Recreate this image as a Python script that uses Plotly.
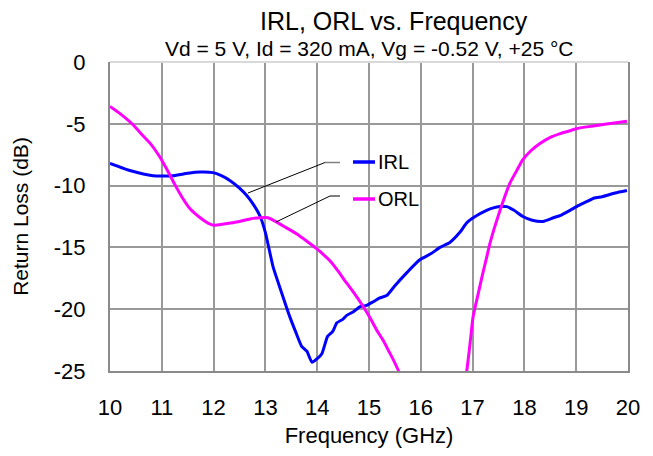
import plotly.graph_objects as go

# IRL (input return loss), dB
irl_freq = [10.0, 10.4, 10.83, 11.22, 11.5, 11.74, 11.99, 12.15, 12.32, 12.5, 12.64, 12.78, 12.9, 13.0, 13.15, 13.3, 13.47, 13.6, 13.7, 13.8, 13.9, 14.0, 14.09, 14.2, 14.3, 14.38, 14.5, 14.57, 14.7, 14.83, 14.95, 15.08, 15.2, 15.34, 15.5, 15.74, 15.98, 16.2, 16.37, 16.56, 16.75, 16.89, 17.05, 17.27, 17.4, 17.53, 17.66, 17.8, 17.97, 18.15, 18.36, 18.56, 18.7, 18.88, 19.05, 19.2, 19.35, 19.5, 19.75, 19.98]
irl_db = [-8.2, -8.8, -9.2, -9.2, -9.0, -8.9, -8.95, -9.2, -9.6, -10.2, -10.8, -11.6, -12.5, -13.8, -16.6, -18.5, -20.6, -22.0, -23.0, -23.4, -24.3, -24.0, -23.6, -22.2, -21.8, -21.1, -20.8, -20.5, -20.2, -19.8, -19.7, -19.4, -19.1, -18.9, -18.1, -17.0, -16.0, -15.5, -15.0, -14.6, -13.8, -13.0, -12.5, -12.0, -11.8, -11.7, -11.7, -12.0, -12.5, -12.8, -12.9, -12.6, -12.4, -12.0, -11.6, -11.3, -11.0, -10.9, -10.6, -10.4]

# ORL (output return loss), dB
orl_freq_a = [10.0, 10.2, 10.45, 10.6, 10.78, 10.95, 11.1, 11.25, 11.4, 11.55, 11.74, 11.9, 12.0, 12.2, 12.5, 12.7, 12.9, 13.05, 13.22, 13.4, 13.6, 13.8, 13.99, 14.1, 14.25, 14.4, 14.57, 14.73, 14.89, 15.02, 15.15, 15.27, 15.37, 15.47, 15.56, 15.65]
orl_db_a = [-3.6, -4.2, -5.1, -5.8, -6.6, -7.6, -8.7, -9.9, -11.0, -11.9, -12.6, -13.05, -13.2, -13.1, -12.9, -12.7, -12.6, -12.6, -12.95, -13.4, -13.9, -14.5, -15.1, -15.5, -16.1, -16.9, -17.9, -18.8, -19.8, -20.7, -21.7, -22.5, -23.3, -24.1, -24.9, -25.8]
orl_freq_b = [16.85, 16.89, 16.95, 17.01, 17.1, 17.18, 17.26, 17.34, 17.43, 17.53, 17.62, 17.72, 17.85, 17.97, 18.12, 18.3, 18.5, 18.69, 18.85, 19.0, 19.2, 19.46, 19.7, 19.98]
orl_db_b = [-25.8, -24.9, -22.8, -20.6, -18.9, -17.4, -16.0, -14.6, -13.3, -12.0, -10.9, -9.8, -8.8, -7.9, -7.2, -6.6, -6.1, -5.8, -5.6, -5.4, -5.25, -5.1, -4.95, -4.8]

x_ticks = list(range(10, 21))
y_ticks = [0, -5, -10, -15, -20, -25]

FONT = "Liberation Sans, Arial, sans-serif"
BLUE = "#0000ff"
MAGENTA = "#ff00ff"
GRID = "#999999"
FRAME = "#8a8a8a"

fig = go.Figure()
fig.add_trace(go.Scatter(x=irl_freq, y=irl_db, mode="lines", name="IRL",
                         line=dict(color=BLUE, width=3, shape="spline", smoothing=0.5),
                         showlegend=False))
fig.add_trace(go.Scatter(x=orl_freq_a + [None] + orl_freq_b,
                         y=orl_db_a + [None] + orl_db_b, mode="lines", name="ORL",
                         line=dict(color=MAGENTA, width=3, shape="spline", smoothing=0.5),
                         connectgaps=False, showlegend=False))

OFF = 8  # default body margin of the page
W, H = 653 - 2 * OFF, 456 - 2 * OFF
# plot area in page pixels: x 110..628, y 62..371
L, T = 110 - OFF, 62 - OFF
PW, PH = 518, 309
R, B = W - L - PW, H - T - PH


def pp(xp, yp):
    # page pixel -> paper coordinates of the plot area
    return (xp - OFF - L) / PW, 1 - (yp - OFF - T) / PH


shapes = []
a, b = pp(333, 215), pp(437, 143)
shapes.append(dict(type="rect", xref="paper", yref="paper",
                   x0=a[0], x1=b[0], y0=a[1], y1=b[1],
                   fillcolor="white", line=dict(width=0), layer="between"))
# faint top border of the plot area
shapes.append(dict(type="line", xref="paper", yref="paper", x0=0, x1=1, y0=1, y1=1,
                   line=dict(color="#d9d9d9", width=2), layer="above"))


def seg(p0, p1, color, width=1):
    a = pp(*p0)
    b = pp(*p1)
    shapes.append(dict(type="line", xref="paper", yref="paper",
                       x0=a[0], y0=a[1], x1=b[0], y1=b[1],
                       line=dict(color=color, width=width), layer="above"))


# leader lines
seg((325, 162.5), (340, 162.5), "#808080", 1.5)
seg((325, 162.5), (248, 193), "black", 1)
seg((330, 196), (340, 196), "black", 1)
seg((330, 196), (276, 222), "black", 1)
# legend samples
seg((353, 162), (375, 162), BLUE, 3.5)
seg((353, 199), (375, 199), MAGENTA, 3.5)

annotations = [
    dict(text="IRL", xref="paper", yref="paper", x=pp(376, 0)[0], y=pp(0, 162)[1],
         xanchor="left", yanchor="middle", showarrow=False,
         font=dict(family=FONT, size=20, color="black")),
    dict(text="ORL", xref="paper", yref="paper", x=pp(376, 0)[0], y=pp(0, 199)[1],
         xanchor="left", yanchor="middle", showarrow=False,
         font=dict(family=FONT, size=20, color="black")),
    dict(text="IRL, ORL vs. Frequency", xref="paper", yref="paper",
         x=pp(394, 0)[0], y=pp(0, 21)[1], xanchor="center", yanchor="middle",
         showarrow=False, font=dict(family=FONT, size=25, color="black")),
    dict(text="Vd = 5 V, Id = 320 mA, Vg = -0.52 V, +25 °C", xref="paper", yref="paper",
         x=pp(369, 0)[0], y=pp(0, 48)[1], xanchor="center", yanchor="middle",
         showarrow=False, font=dict(family=FONT, size=21, color="black")),
]

fig.update_layout(
    width=W, height=H,
    margin=dict(l=L, r=R, t=T, b=B, autoexpand=False),
    paper_bgcolor="white", plot_bgcolor="white",
    font=dict(family=FONT, color="black"),
    shapes=shapes, annotations=annotations,
    showlegend=False,
)
fig.update_xaxes(range=[10, 20], tickvals=x_ticks, ticktext=[str(v) for v in x_ticks],
                 showgrid=True, gridcolor=GRID, gridwidth=1.5,
                 showline=True, linecolor=FRAME, linewidth=2, mirror=False,
                 ticks="", tickfont=dict(size=22), ticklabelstandoff=16,
                 title=dict(text="Frequency (GHz)", font=dict(size=22), standoff=8),
                 zeroline=False, fixedrange=True, automargin=False)
fig.update_yaxes(range=[-25, 0], tickvals=y_ticks, ticktext=[str(v) for v in y_ticks],
                 showgrid=True, gridcolor=GRID, gridwidth=1.5,
                 showline=True, linecolor=FRAME, linewidth=2, mirror=True,
                 ticks="", tickfont=dict(size=22), ticklabelstandoff=18,
                 title=dict(text="Return Loss (dB)", font=dict(size=21), standoff=19),
                 zeroline=False, fixedrange=True, automargin=False)

fig.write_html("out.html")
